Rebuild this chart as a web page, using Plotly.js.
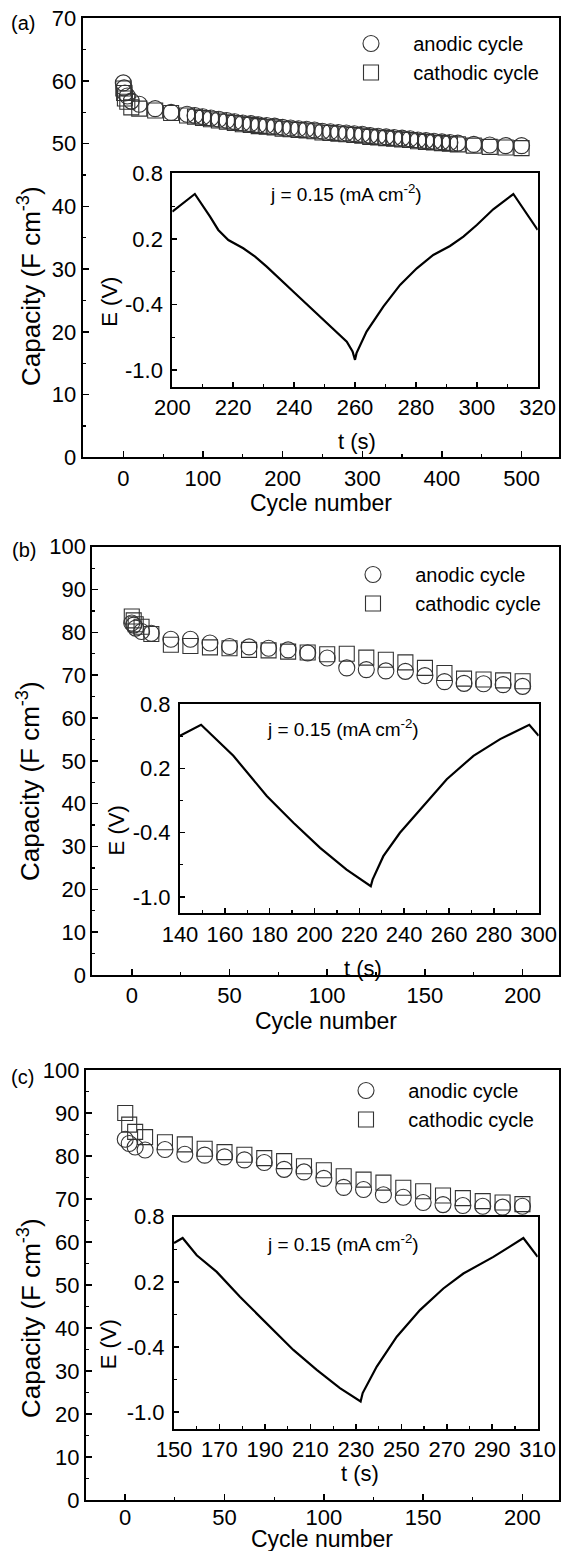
<!DOCTYPE html>
<html><head><meta charset="utf-8">
<script src="https://cdn.plot.ly/plotly-3.0.1.min.js"></script>
<style>html,body{margin:0;padding:0;background:#fff}#chart{width:561px;height:1551px}</style>
</head><body><div id="chart"></div>
<script>
// ---------- Panel (a) capacity data ----------
const cycA = [0,1,2,5,10,20,40,60,80,90,100,110,120,130,140,150,160,170,180,190,200,210,220,230,240,250,260,270,280,290,300,310,320,330,340,350,360,370,380,390,400,410,420,440,460,480,500];
const anodicA = [59.7,58.9,58.1,57.6,56.8,56.3,55.6,55.0,54.7,54.5,54.3,54.1,53.9,53.7,53.5,53.3,53.2,53.0,52.9,52.8,52.6,52.5,52.4,52.3,52.2,52.0,51.9,51.8,51.7,51.6,51.5,51.3,51.2,51.1,51.0,50.9,50.8,50.6,50.5,50.4,50.3,50.2,50.1,49.9,49.8,49.7,49.7];
const cathodicA = [58.8,58.1,57.2,56.7,55.8,55.6,55.3,54.9,54.5,54.3,54.1,53.9,53.7,53.5,53.3,53.1,53.0,52.8,52.7,52.6,52.4,52.3,52.2,52.1,52.0,51.8,51.7,51.6,51.5,51.4,51.3,51.1,51.0,50.9,50.8,50.7,50.6,50.4,50.3,50.2,50.1,50.0,49.9,49.7,49.5,49.4,49.3];
// ---------- Panel (b) ----------
const cycB = [0,1,2,5,10,20,30,40,50,60,70,80,90,100,110,120,130,140,150,160,170,180,190,200];
const anodicB = [82.2,81.7,81.0,80.2,79.8,78.4,78.4,77.5,76.7,76.6,76.3,75.9,75.2,74.0,71.7,71.3,71.0,70.9,69.9,68.5,68.1,68.0,67.8,67.4];
const cathodicB = [83.7,82.8,81.9,81.3,79.6,77.1,76.8,76.5,76.3,75.9,75.8,75.5,75.3,74.9,75.0,74.1,73.6,73.0,71.7,70.5,69.2,69.0,68.8,68.6];
// ---------- Panel (c) ----------
const cycC = [0,2,5,10,20,30,40,50,60,70,80,90,100,110,120,130,140,150,160,170,180,190,200];
const anodicC = [83.9,82.9,82.1,81.4,81.5,80.4,80.2,79.8,79.1,78.5,76.9,76.3,74.8,72.7,72.2,71.0,70.4,69.2,68.7,68.5,68.3,68.1,68.3];
const cathodicC = [90.0,87.3,85.6,84.4,83.2,82.7,81.7,80.9,80.3,79.5,78.8,77.6,76.7,75.3,74.5,73.8,72.6,71.8,70.8,70.2,69.5,69.2,68.8];
// ---------- Inset potential curves ----------
const tA = [200,207.4,212.4,215.1,218.4,223.3,227.2,231.0,239.7,248.5,257.3,259.2,260.0,260.5,263.8,269.3,274.8,280.3,285.7,291.2,295.6,300.0,305.4,312.0,320.0];
const eA = [0.449,0.611,0.404,0.282,0.190,0.114,0.038,-0.054,-0.282,-0.511,-0.740,-0.831,-0.907,-0.846,-0.648,-0.420,-0.221,-0.069,0.053,0.135,0.221,0.327,0.471,0.611,0.282];
const tB = [140,149.4,163.8,178.7,190.6,202.5,214.3,225.1,225.9,230.7,238.1,247.1,259.0,270.9,282.8,295.8,300.0];
const eB = [0.506,0.609,0.319,-0.056,-0.306,-0.541,-0.744,-0.900,-0.838,-0.619,-0.400,-0.181,0.100,0.319,0.475,0.609,0.506];
const tC = [150,153.8,160,168.8,179.0,190.8,202.5,212.8,223.0,232.1,233.0,239.2,248.0,258.2,268.5,277.3,290.5,303.7,306.6,310];
const eC = [0.558,0.604,0.445,0.292,0.062,-0.183,-0.427,-0.611,-0.779,-0.902,-0.825,-0.580,-0.305,-0.060,0.139,0.277,0.430,0.604,0.521,0.430];
// ---------- Tick labels ----------
const eTicks = [-1.0,-0.4,0.2,0.8];
const eTickText = ['-1.0','-0.4','0.2','0.8'];
const eMinor = [-0.7,-0.1,0.5];
const cycTicksA = [0,100,200,300,400,500];
const cycMinorA = [50,150,250,350,450];
const cycTicksBC = [0,50,100,150,200];
const cycMinorBC = [25,75,125,175];
const tTicksA = [200,220,240,260,280,300,320];
const tTicksB = [140,160,180,200,220,240,260,280,300];
const tTicksC = [150,170,190,210,230,250,270,290,310];
const legendNames = ['anodic cycle','cathodic cycle'];

const W = 561, H = 1551;
const FONT = 'Liberation Sans, Arial, Helvetica, sans-serif';
const fx = p => p / W;
const fy = p => 1 - p / H;
const pad = '\u00a0\u00a0\u00a0\u00a0';

function range(a, b, s) { const r = []; for (let v = a; v <= b + 1e-9; v += s) r.push(+v.toFixed(4)); return r; }

const traces = [];
function capTraces(x, an, ca, xa, ya, leg) {
  traces.push({x: x, y: an, xaxis: xa, yaxis: ya, type: 'scatter', mode: 'markers', name: pad + legendNames[0], legend: leg,
    marker: {symbol: 'circle-open', size: 16, color: '#333', line: {width: 1.1, color: '#333'}}});
  traces.push({x: x, y: ca, xaxis: xa, yaxis: ya, type: 'scatter', mode: 'markers', name: pad + legendNames[1], legend: leg,
    marker: {symbol: 'square-open', size: 15, color: '#333', line: {width: 1.1, color: '#333'}}});
}
capTraces(cycA, anodicA, cathodicA, 'x', 'y', 'legend');
capTraces(cycB, anodicB, cathodicB, 'x2', 'y2', 'legend2');
capTraces(cycC, anodicC, cathodicC, 'x3', 'y3', 'legend3');
function eTrace(t, e, xa, ya) {
  traces.push({x: t, y: e, xaxis: xa, yaxis: ya, type: 'scatter', mode: 'lines', showlegend: false,
    line: {color: '#000', width: 2.2}});
}
eTrace(tA, eA, 'x4', 'y4');
eTrace(tB, eB, 'x5', 'y5');
eTrace(tC, eC, 'x6', 'y6');

const tickFont = {family: FONT, size: 22, color: '#000'};
function xAxis(dom, rng, tv, mv, anchor, len) {
  return {domain: dom, range: rng, anchor: anchor, tickmode: 'array', tickvals: tv, ticks: 'inside', ticklen: len, tickwidth: 1.5,
    tickcolor: '#000', showline: true, linecolor: '#000', linewidth: 2, mirror: true, showgrid: false, zeroline: false,
    tickfont: tickFont, fixedrange: true,
    minor: {tickmode: 'array', tickvals: mv, ticks: 'inside', ticklen: 3, tickwidth: 1.2, tickcolor: '#000', showgrid: false}};
}
function yAxis(dom, rng, tv, mv, anchor, len, tt) {
  const a = xAxis(dom, rng, tv, mv, anchor, len);
  if (tt) { a.ticktext = tt; a.ticklabelstandoff = 3; }
  return a;
}
const yTicksA = range(0, 70, 10), yMinorA = range(5, 65, 10);
const yTicksBC = range(0, 100, 10), yMinorBC = range(5, 95, 10);

const layout = {
  width: W, height: H, margin: {l: 0, r: 0, t: 0, b: 0},
  paper_bgcolor: '#fff', plot_bgcolor: 'rgba(0,0,0,0)',
  font: {family: FONT, color: '#000'},
  xaxis: xAxis([fx(82.7), fx(559)], [-51, 547], cycTicksA, cycMinorA, 'y', 6),
  yaxis: yAxis([fy(457.3), fy(18.3)], [0, 70], yTicksA, yMinorA, 'x', 6),
  xaxis2: xAxis([fx(92.3), fx(559)], [-20.2, 218.6], cycTicksBC, cycMinorBC, 'y2', 6),
  yaxis2: yAxis([fy(975), fy(546.7)], [0, 100], yTicksBC, yMinorBC, 'x2', 6),
  xaxis3: xAxis([fx(85.9), fx(559)], [-19.8, 218.4], cycTicksBC, cycMinorBC, 'y3', 6),
  yaxis3: yAxis([fy(1500), fy(1070)], [0, 100], yTicksBC, yMinorBC, 'x3', 6),
  xaxis4: xAxis([fx(172.3), fx(537.7)], [200, 320], tTicksA, range(210, 310, 20), 'y4', 5),
  yaxis4: yAxis([fy(386.7), fy(173.3)], [-1.153, 0.8005], eTicks, eMinor, 'x4', 5, eTickText),
  xaxis5: xAxis([fx(180), fx(538.7)], [140, 300], tTicksB, range(150, 290, 20), 'y5', 5),
  yaxis5: yAxis([fy(913.3), fy(704.3)], [-1.153, 0.8005], eTicks, eMinor, 'x5', 5, eTickText),
  xaxis6: xAxis([fx(174), fx(537.7)], [150, 310], tTicksC, range(160, 300, 20), 'y6', 5),
  yaxis6: yAxis([fy(1428.7), fy(1216.7)], [-1.153, 0.8005], eTicks, eMinor, 'x6', 5, eTickText),
  annotations: [],
  showlegend: true
};
layout.xaxis3.ticklabelstandoff = -3;
function leg(xp, yp) {
  return {x: fx(xp), y: fy(yp), xanchor: 'left', yanchor: 'top', xref: 'paper', yref: 'paper',
    font: {family: FONT, size: 20, color: '#000'}, bgcolor: 'rgba(0,0,0,0)', borderwidth: 0, itemsizing: 'trace', tracegroupgap: 0};
}
layout.legend = leg(351, 24);
layout.legend2 = leg(353, 555);
layout.legend3 = leg(346, 1071);

function ann(text, xp, yp, size, angle) {
  layout.annotations.push({text: text, x: fx(xp), y: fy(yp), xref: 'paper', yref: 'paper', xanchor: 'center', yanchor: 'middle',
    showarrow: false, textangle: angle || 0, font: {family: FONT, size: size, color: '#000'}});
}
ann('(a)', 23, 23.3, 20); ann('(b)', 24, 550, 20); ann('(c)', 22.5, 1076.7, 20);
ann('Cycle number', 321, 503, 23); ann('Cycle number', 326, 1021, 23); ann('Cycle number', 322, 1539, 23);
ann('t (s)', 356.7, 441.7, 22); ann('t (s)', 363, 968.3, 22); ann('t (s)', 359.6, 1473.3, 22);
ann('E (V)', 110, 301.7, 22, -90); ann('E (V)', 116.7, 830.7, 22, -90); ann('E (V)', 108.3, 1344, 22, -90);
ann('Capacity (F cm<sup>-3</sup>)', 29, 286, 26, -90); ann('Capacity (F cm<sup>-3</sup>)', 29, 781, 26, -90); ann('Capacity (F cm<sup>-3</sup>)', 29, 1318, 26, -90);
ann('j = 0.15 (mA cm<sup>-2</sup>)', 345.8, 193.3, 19); ann('j = 0.15 (mA cm<sup>-2</sup>)', 342.5, 728.3, 19); ann('j = 0.15 (mA cm<sup>-2</sup>)', 343, 1243.3, 19);

Plotly.newPlot('chart', traces, layout, {staticPlot: true, displayModeBar: false});
</script></body></html>
